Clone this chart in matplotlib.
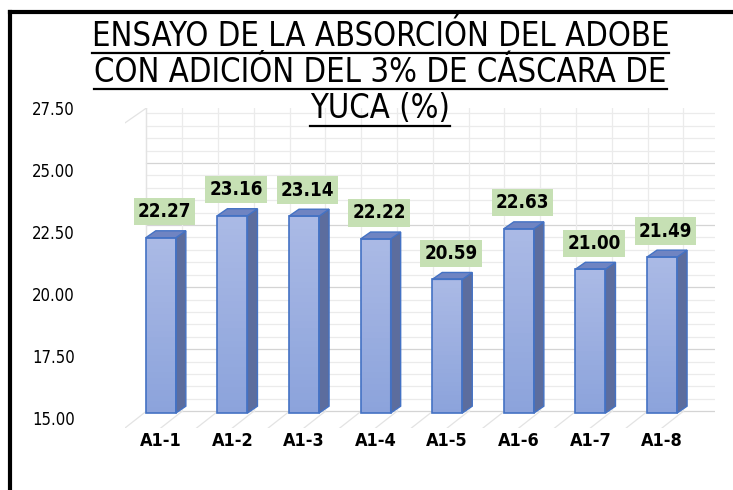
import numpy as np
import matplotlib.pyplot as plt
from matplotlib.patches import Polygon, Rectangle
from matplotlib.lines import Line2D
from matplotlib import font_manager

categorias = ["A1-1", "A1-2", "A1-3", "A1-4", "A1-5", "A1-6", "A1-7", "A1-8"]
absorcion = [22.27, 23.16, 23.14, 22.22, 20.59, 22.63, 21.00, 21.49]
ticks_y = [15.00, 17.50, 20.00, 22.50, 25.00, 27.50]
titulo = ["ENSAYO DE LA ABSORCIÓN DEL ADOBE",
          "CON ADICIÓN DEL 3% DE CÁSCARA DE",
          "YUCA (%)"]

# buscar una fuente estrecha si existe
cond = font_manager.findfont(font_manager.FontProperties(family="DejaVu Sans", stretch="condensed"))
if "Condensed" in cond:
    narrow = dict(family="DejaVu Sans", stretch="condensed")
    tsize, ysize, xsize = 23.5, 12, 13
else:
    narrow = dict(family="Liberation Sans")
    tsize, ysize, xsize = 21, 12, 13

fig = plt.figure(figsize=(7.33, 4.90), dpi=100)
ax = fig.add_axes([125/733, 62/490, 590/733, 320/490])
ax.set_xlim(-0.5, 7.74)
ax.set_ylim(14.6, 27.5)

# pared del fondo (rejilla)
for y in np.arange(15, 27.51, 0.5):
    c = "#D4D4D4" if abs(y/2.5 - round(y/2.5)) < 1e-6 else "#EBEBEB"
    ax.plot([-0.2, 7.74], [y + 0.28, y + 0.28], color=c, lw=0.9, zorder=0)
for xv in np.arange(-0.2, 7.8, 0.5):
    ax.plot([xv, xv], [15.28, 27.5], color="#EBEBEB", lw=0.9, zorder=0)
# piso
for xv in np.arange(-0.2, 7.8, 0.5):
    ax.plot([xv, xv - 0.3], [15.28, 14.6], color="#E3E3E3", lw=0.9, zorder=0)
ax.plot([-0.2, -0.5], [27.5, 26.9], color="#E3E3E3", lw=0.9, zorder=0)
ax.plot([-0.2, -0.2], [15.28, 27.5], color="#E3E3E3", lw=0.9, zorder=0)

w = 0.42
dx, dy = 0.14, 0.28
base = 15.2
for i, v in enumerate(absorcion):
    x0 = i - w/2
    x1 = i + w/2
    # cara frontal con degradado
    n = 30
    hs = np.linspace(base, v, n + 1)
    for k in range(n):
        t = k / n
        col = (0.55 + 0.12*t, 0.64 + 0.09*t, 0.86 + 0.04*t)
        ax.add_patch(Rectangle((x0, hs[k]), w, hs[k+1] - hs[k], facecolor=col,
                               edgecolor="none", zorder=3))
    ax.add_patch(Rectangle((x0, base), w, v - base, facecolor="none",
                           edgecolor="#4472C4", lw=1.2, zorder=4))
    # cara lateral
    ax.add_patch(Polygon([(x1, base), (x1 + dx, base + dy), (x1 + dx, v + dy), (x1, v)],
                         closed=True, facecolor="#5C6D9E", edgecolor="#4472C4",
                         lw=1.0, zorder=3))
    # cara superior
    ax.add_patch(Polygon([(x0, v), (x1, v), (x1 + dx, v + dy), (x0 + dx, v + dy)],
                         closed=True, facecolor="#6F84C2", edgecolor="#4472C4",
                         lw=1.0, zorder=3))
    ax.text(i + 0.05, v + 1.05, f"{v:.2f}", ha="center", va="center",
            fontsize=13.5, fontweight="bold", **narrow,
            bbox=dict(boxstyle="square,pad=0.22", facecolor="#C6E0B4", edgecolor="none"),
            zorder=5)

ax.set_xticks(range(len(categorias)))
ax.set_xticklabels(categorias, fontsize=xsize, fontweight="bold", **narrow)
ax.set_yticks(ticks_y)
ax.set_yticklabels([f"{t:.2f}" for t in ticks_y], fontsize=ysize, **narrow)
ax.tick_params(axis="both", length=0)
ax.tick_params(axis="y", pad=36)
ax.tick_params(axis="x", pad=3)
for s in ax.spines.values():
    s.set_visible(False)

# titulo subrayado
tit_y = [1 - 36/490, 1 - 72/490, 1 - 109/490]
textos = []
for linea, yy in zip(titulo, tit_y):
    textos.append(fig.text(0.519, yy, linea, ha="center", va="center", fontsize=tsize,
                           **narrow))
fig.canvas.draw()
r = fig.canvas.get_renderer()
inv = fig.transFigure.inverted()
for t in textos:
    bb = t.get_window_extent(renderer=r)
    (xa, ya), (xb, yb) = inv.transform([(bb.x0, bb.y0), (bb.x1, bb.y0)])
    fig.add_artist(Line2D([xa, xb], [ya - 1/490, ya - 1/490], color="black", lw=1.6,
                          transform=fig.transFigure))

# borde negro
fig.add_artist(Line2D([10/733, 1], [1 - 12/490, 1 - 12/490], color="black", lw=3,
                      transform=fig.transFigure))
fig.add_artist(Line2D([10/733, 10/733], [0, 1 - 12/490], color="black", lw=3,
                      transform=fig.transFigure))

fig.savefig("out.png", dpi=100)
